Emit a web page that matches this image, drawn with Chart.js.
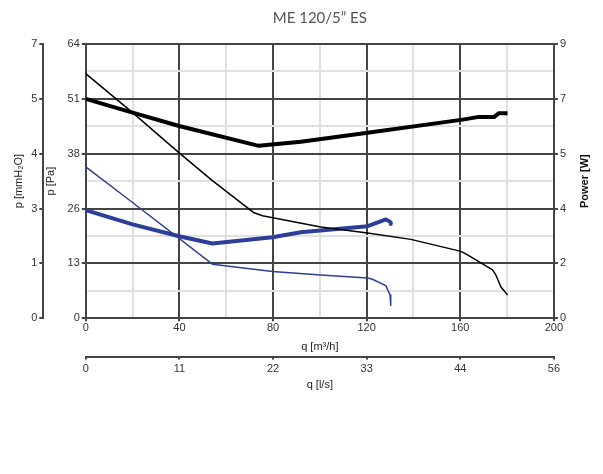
<!DOCTYPE html>
<html>
<head>
<meta charset="utf-8">
<script src="https://cdn.jsdelivr.net/npm/chart.js@4.4.1/dist/chart.umd.min.js"></script>
<style>
  html, body { margin: 0; padding: 0; background: #fff; }
  #wrap { width: 603px; height: 474px; }
</style>
</head>
<body>
<div id="wrap"><canvas id="fanChart"></canvas></div>
<script>
// pressure curves, q in m3/h, p in Pa
let highPressQ = [0, 20, 39.9, 54.1, 71.9, 75.5, 100.4, 120.4, 138.9, 160.3, 163.1, 173.8, 175.2, 177.4, 180.2];
let highPressPa = [57.1, 48.0, 38.6, 32.1, 24.6, 23.9, 21.3, 19.9, 18.4, 15.6, 14.8, 11.3, 10.1, 7.3, 5.4];
let lowPressQ = [0, 20, 54.1, 79.8, 100.4, 120.4, 122.5, 128.2, 130.0, 130.3];
let lowPressPa = [35.3, 27.0, 12.6, 10.9, 10.1, 9.4, 9.1, 7.6, 5.4, 3.0];

// power curves, q in m3/h, power in W
let highPowerQ = [0, 20, 39.9, 72.6, 73.9, 91.9, 120.4, 160.3, 167.4, 174.4, 176.5, 180.2];
let highPowerW = [7.20, 6.75, 6.31, 5.68, 5.66, 5.79, 6.09, 6.51, 6.60, 6.60, 6.73, 6.73];
let lowPowerQ = [0, 20, 39.9, 54.1, 79.8, 91.9, 120.4, 122.5, 128.2, 129.5, 130.3, 130.3];
let lowPowerW = [3.55, 3.08, 2.69, 2.45, 2.66, 2.82, 3.02, 3.08, 3.24, 3.19, 3.14, 3.09];

// tick labels
let paLabels = ['0', '13', '26', '38', '51', '64'];
let mmLabels = ['0', '1', '3', '4', '5', '7'];
let powerLabels = ['0', '2', '4', '5', '7', '9'];
let qLabels = ['0', '40', '80', '120', '160', '200'];
let lsLabels = ['0', '11', '22', '33', '44', '56'];

const dark = '#444444';
const light = '#e0e0e0';
const blue = '#2c3f98';
const fontFam = 'Liberation Sans, Arial, sans-serif';
const tickFont = { family: fontFam, size: 11 };

function pts(xs, ys) {
    return xs.map((x, i) => ({ x: x, y: ys[i] }));
}

// every axis gets evenly spaced ticks, labels on every other one
function divTicks(max, steps) {
    return function (axis) {
        let t = [];
        for (let i = 0; i <= steps; i++) t.push({ value: max * i / steps });
        axis.ticks = t;
    };
}

function labelFrom(arr) {
    return function (value, index) {
        return index % 2 === 0 ? arr[index / 2] : '';
    };
}

const majorColor = ctx => (ctx.index % 2 === 0 ? dark : light);
const majorTick = ctx => (ctx.index % 2 === 0 ? dark : 'rgba(0,0,0,0)');

// right axis title reads bottom-to-top, chart.js would turn it the other way
const powerTitle = {
    id: 'powerTitle',
    afterDraw(chart) {
        const ctx = chart.ctx;
        const area = chart.chartArea;
        ctx.save();
        ctx.translate(585, (area.top + area.bottom) / 2);
        ctx.rotate(-Math.PI / 2);
        ctx.font = 'bold 11px ' + fontFam;
        ctx.fillStyle = '#111';
        ctx.textAlign = 'center';
        ctx.textBaseline = 'middle';
        ctx.fillText('Power [W]', 0, 0);
        ctx.restore();
    }
};

new Chart(document.getElementById('fanChart'), {
    type: 'line',
    data: {
        datasets: [{
            data: pts(highPowerQ, highPowerW),
            borderColor: '#000',
            borderWidth: 4,
            yAxisID: 'pw'
        }, {
            data: pts(highPressQ, highPressPa),
            borderColor: '#000',
            borderWidth: 1.5,
            yAxisID: 'pa'
        }, {
            data: pts(lowPowerQ, lowPowerW),
            borderColor: blue,
            borderWidth: 4,
            yAxisID: 'pw'
        }, {
            data: pts(lowPressQ, lowPressPa),
            borderColor: blue,
            borderWidth: 1.5,
            yAxisID: 'pa'
        }]
    },
    options: {
        responsive: true,
        maintainAspectRatio: false,
        animation: false,
        layout: { padding: { left: 12, right: 35, top: 5, bottom: 82 } },
        elements: {
            point: { radius: 0 },
            line: { tension: 0, fill: false, borderJoinStyle: 'round', borderCapStyle: 'butt' }
        },
        plugins: {
            legend: { display: false },
            tooltip: { enabled: false },
            title: {
                display: true,
                text: 'ME 120/5\u201D ES',
                fullSize: false,
                color: '#555',
                font: { family: 'Lato, sans-serif', size: 15, weight: 'normal' },
                padding: { top: 4, bottom: 17 }
            }
        },
        scales: {
            x: {
                type: 'linear',
                position: 'bottom',
                weight: 0,
                min: 0,
                max: 200,
                afterBuildTicks: divTicks(200, 10),
                grid: {
                    color: majorColor,
                    lineWidth: 2,
                    tickLength: 3,
                    tickColor: majorTick
                },
                border: { color: dark, width: 2 },
                ticks: {
                    color: '#333',
                    font: tickFont,
                    padding: 0,
                    maxRotation: 0,
                    autoSkip: false,
                    callback: labelFrom(qLabels)
                },
                title: {
                    display: true,
                    text: 'q [m\u00B3/h]',
                    color: '#222',
                    font: tickFont,
                    padding: { top: 6, bottom: 3 }
                }
            },
            ls: {
                type: 'linear',
                position: 'bottom',
                weight: 1,
                min: 0,
                max: 56,
                afterBuildTicks: divTicks(56, 5),
                grid: { drawOnChartArea: false, tickLength: 3, color: dark, lineWidth: 2 },
                border: { color: dark, width: 2 },
                ticks: {
                    color: '#333',
                    font: tickFont,
                    padding: 3,
                    maxRotation: 0,
                    autoSkip: false,
                    callback: (v, i) => lsLabels[i]
                },
                title: {
                    display: true,
                    text: 'q [l/s]',
                    color: '#222',
                    font: tickFont,
                    padding: { top: 0, bottom: 0 }
                }
            },
            pa: {
                type: 'linear',
                position: 'left',
                weight: 0,
                min: 0,
                max: 64,
                afterBuildTicks: divTicks(64, 10),
                grid: {
                    color: majorColor,
                    lineWidth: 2,
                    tickLength: 4,
                    tickColor: majorTick
                },
                border: { color: dark, width: 2 },
                ticks: {
                    color: '#333',
                    font: tickFont,
                    padding: 2,
                    autoSkip: false,
                    callback: labelFrom(paLabels)
                },
                title: {
                    display: true,
                    text: 'p [Pa]',
                    color: '#222',
                    font: tickFont,
                    padding: { top: 1, bottom: 8 }
                }
            },
            mm: {
                type: 'linear',
                position: 'left',
                weight: 1,
                min: 0,
                max: 7,
                afterBuildTicks: divTicks(7, 10),
                grid: {
                    drawOnChartArea: false,
                    tickLength: 4,
                    lineWidth: 2,
                    tickColor: majorTick
                },
                border: { color: dark, width: 2 },
                ticks: {
                    color: '#333',
                    font: tickFont,
                    padding: 2,
                    autoSkip: false,
                    callback: labelFrom(mmLabels)
                },
                title: {
                    display: true,
                    text: 'p [mmH\u2082O]',
                    color: '#222',
                    font: tickFont,
                    padding: { top: 0, bottom: 4 }
                }
            },
            pw: {
                type: 'linear',
                position: 'right',
                min: 0,
                max: 9,
                afterBuildTicks: divTicks(9, 10),
                grid: {
                    drawOnChartArea: false,
                    tickLength: 4,
                    lineWidth: 2,
                    tickColor: majorTick
                },
                border: { color: dark, width: 2 },
                ticks: {
                    color: '#333',
                    font: tickFont,
                    padding: 2,
                    autoSkip: false,
                    callback: labelFrom(powerLabels)
                }
            }
        }
    },
    plugins: [powerTitle]
});
</script>
</body>
</html>
